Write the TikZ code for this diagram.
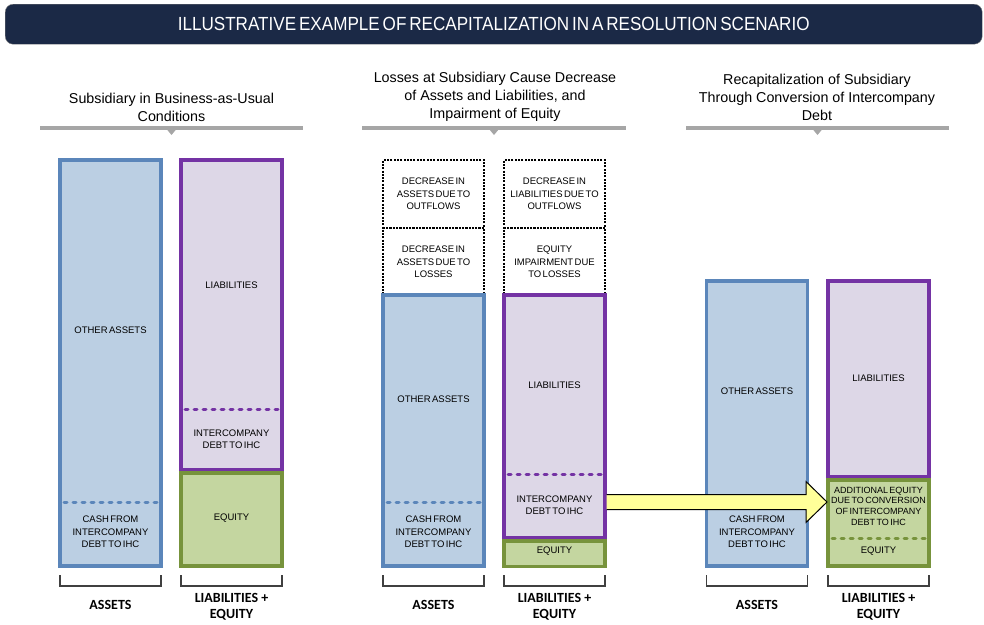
\documentclass[tikz,border=0pt]{standalone}
\usepackage{fontspec}
\setmainfont{Liberation Sans}
\newfontfamily\titlefont{Liberation Sans}[FakeStretch=0.9,WordSpace=0.6]
\newfontfamily\boxfont{Liberation Sans}[WordSpace=0.55]
\newfontfamily\axisfont{Carlito}
\usetikzlibrary{calc}
\definecolor{navy}{HTML}{1B2946}
\definecolor{rulegray}{HTML}{A6A6A6}
\definecolor{assetline}{HTML}{5B86BA}
\definecolor{assetfill}{HTML}{BBCFE3}
\definecolor{liabline}{HTML}{7433A4}
\definecolor{liabfill}{HTML}{DDD7E7}
\definecolor{eqline}{HTML}{77933C}
\definecolor{eqfill}{HTML}{C4D6A0}
\definecolor{arrowfill}{HTML}{FFFF99}
\begin{document}
\begin{tikzpicture}[x=1pt,y=-1pt,
  box/.style={draw,line width=3.2pt,anchor=north west,outer sep=0pt,inner sep=0pt},
  assetbox/.style={box,draw=assetline,fill=assetfill},
  liabbox/.style={box,draw=liabline,fill=liabfill},
  eqbox/.style={box,draw=eqline,fill=eqfill},
  lossbox/.style={box,line width=1.1pt,dash pattern=on 2pt off 1.3pt},
  lbl/.style={font=\boxfont\fontsize{9.5}{12.3}\selectfont,align=center,inner sep=0pt},
  head/.style={font=\fontsize{14.3}{18}\selectfont,align=center,inner sep=0pt},
  axis/.style={font=\axisfont\bfseries\fontsize{14}{15.5}\selectfont,align=center,inner sep=0pt},
  rule/.style={line width=3.2pt,draw=rulegray},
  split/.style={line width=3pt,line cap=round,dash pattern=on 3pt off 6pt,shorten <=4pt,shorten >=4pt},
  tray/.style={draw=black!75,line width=1.2pt}
]
\useasboundingbox (0,0) rectangle (984,624);

% title bar
\node[draw=black!50,fill=navy,rounded corners=8pt,minimum width=977pt,minimum height=40pt,
  anchor=north west,text=white,font=\titlefont\fontsize{19}{20}\selectfont] (title) at (5,4)
  {ILLUSTRATIVE EXAMPLE OF RECAPITALIZATION IN A RESOLUTION SCENARIO};

% panel headings
\node[head] (head1) at (171.5,107) {Subsidiary in Business-as-Usual\\Conditions};
\node[head] (head2) at (495,97) {Losses at Subsidiary Cause Decrease\\of Assets and Liabilities, and\\Impairment of Equity};
\node[head] (head3) at (817,97) {Recapitalization of Subsidiary\\Through Conversion of Intercompany\\Debt};
\foreach \l/\r in {40/303,362/626,686/949}{
  \draw[rule] (\l,128) -- (\r,128);
  \fill[rulegray] ({(\l+\r)/2-5},129) -- ({(\l+\r)/2+5},129) -- ({(\l+\r)/2},135) -- cycle;
}

% panel 1: business as usual
\node[assetbox,minimum width=101pt,minimum height=406pt] (a1) at (60,160) {};
\node[liabbox,minimum width=101pt,minimum height=309.5pt] (l1) at (181,160) {};
\node[eqbox,minimum width=101pt,minimum height=93pt] (e1) at (181,473) {};
\draw[split,draw=assetline] (a1.west |- 0,502) -- (a1.east |- 0,502);
\draw[split,draw=liabline] (l1.west |- 0,409) -- (l1.east |- 0,409);
\node[lbl] at (110.5,330) {OTHER ASSETS};
\node[lbl] at (110.5,532) {CASH FROM\\INTERCOMPANY\\DEBT TO IHC};
\node[lbl] at (231.5,285) {LIABILITIES};
\node[lbl] at (231.5,439) {INTERCOMPANY\\DEBT TO IHC};
\node[lbl] at (231.5,518) {EQUITY};

% panel 2: losses
\node[lossbox,minimum width=101pt,minimum height=68pt] (d1) at (383,160) {};
\node[lossbox,minimum width=101pt,minimum height=67pt] (d2) at (383,228) {};
\node[lossbox,minimum width=101pt,minimum height=68pt] (d3) at (504,160) {};
\node[lossbox,minimum width=101pt,minimum height=67pt] (d4) at (504,228) {};
\node[assetbox,minimum width=101pt,minimum height=271pt] (a2) at (383,295) {};
\node[liabbox,minimum width=101pt,minimum height=243pt] (l2) at (504,295) {};
\node[eqbox,minimum width=101pt,minimum height=25.5pt] (e2) at (504,541) {};
\draw[split,draw=assetline] (a2.west |- 0,502) -- (a2.east |- 0,502);
\draw[split,draw=liabline] (l2.west |- 0,474) -- (l2.east |- 0,474);
\node[lbl] at (433.5,194) {DECREASE IN\\ASSETS DUE TO\\OUTFLOWS};
\node[lbl] at (433.5,262) {DECREASE IN\\ASSETS DUE TO\\LOSSES};
\node[lbl] at (554.5,194) {DECREASE IN\\LIABILITIES DUE TO\\OUTFLOWS};
\node[lbl] at (554.5,262) {EQUITY\\IMPAIRMENT DUE\\TO LOSSES};
\node[lbl] at (433.5,399) {OTHER ASSETS};
\node[lbl] at (433.5,532) {CASH FROM\\INTERCOMPANY\\DEBT TO IHC};
\node[lbl] at (554.5,385) {LIABILITIES};
\node[lbl] at (554.5,505) {INTERCOMPANY\\DEBT TO IHC};
\node[lbl] at (554.5,551) {EQUITY};

% panel 3: recapitalization
\node[assetbox,minimum width=101pt,minimum height=285pt] (a3) at (706.5,281) {};
\node[liabbox,minimum width=101pt,minimum height=196pt] (l3) at (828,281) {};
\node[eqbox,minimum width=101pt,minimum height=86pt] (e3) at (828,480) {};
\draw[split,draw=eqline] (e3.west |- 0,538) -- (e3.east |- 0,538);
\node[lbl] at (757,391) {OTHER ASSETS};
\node[lbl] at (757,532) {CASH FROM\\INTERCOMPANY\\DEBT TO IHC};
\node[lbl] at (878.5,378) {LIABILITIES};
\node[lbl,font=\boxfont\fontsize{9}{10.7}\selectfont] at (878.5,506) {ADDITIONAL EQUITY\\DUE TO CONVERSION\\OF INTERCOMPANY\\DEBT TO IHC};
\node[lbl] at (878.5,551) {EQUITY};

% conversion arrow
\coordinate (tip) at ($(e3.north west)+(-1,22)$);
\draw[fill=arrowfill,line width=1pt,line join=miter]
  ($(l2.east |- 0,494.5)+(1.6,0)$) -- ($(tip)+(-21,-7.5)$) -- ($(tip)+(-21,-20.5)$) -- (tip)
  -- ($(tip)+(-21,20.5)$) -- ($(tip)+(-21,7.5)$) -- ($(l2.east |- 0,509.5)+(1.6,0)$);

% brackets and axis labels
\foreach \n in {a1,l1,a2,l2,a3,l3}{
  \draw[tray] (\n.west |- 0,575) -- (\n.west |- 0,586) -- (\n.east |- 0,586) -- (\n.east |- 0,575);
}
\node[axis] at (110.5,605) {ASSETS};
\node[axis] at (231.5,607) {LIABILITIES +\\EQUITY};
\node[axis] at (433.5,605) {ASSETS};
\node[axis] at (554.5,607) {LIABILITIES +\\EQUITY};
\node[axis] at (757,605) {ASSETS};
\node[axis] at (878.5,607) {LIABILITIES +\\EQUITY};
\end{tikzpicture}
\end{document}
